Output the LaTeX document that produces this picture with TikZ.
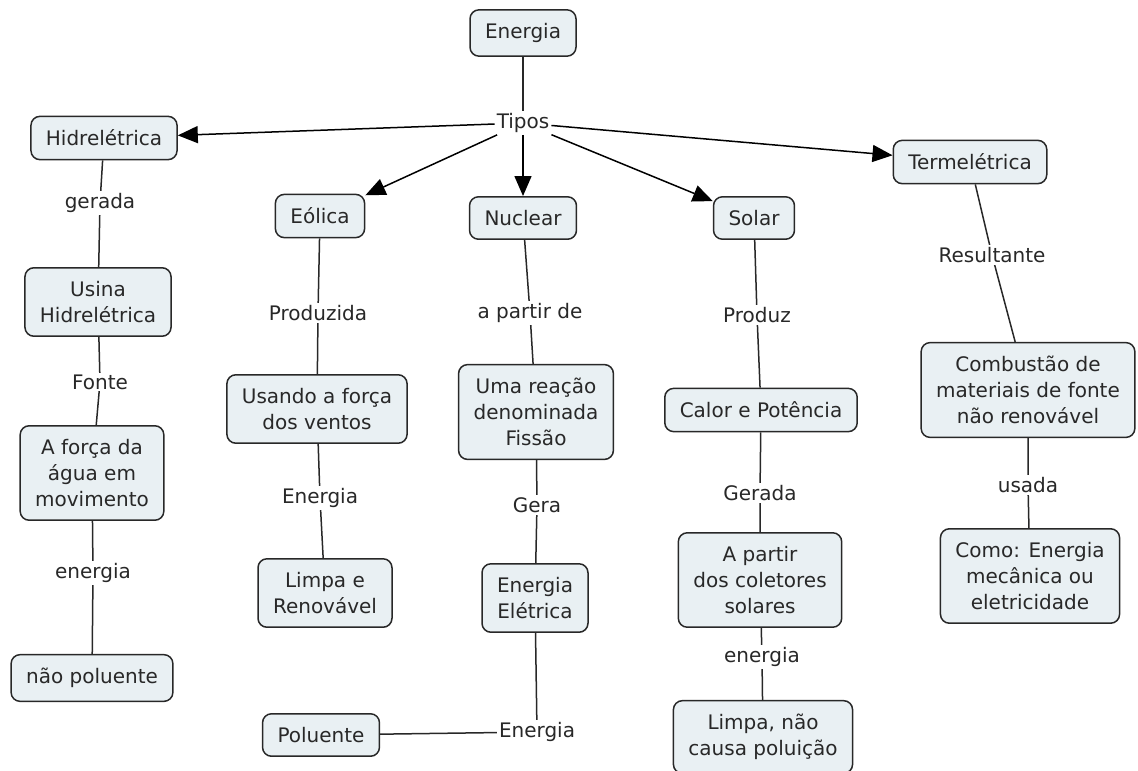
\documentclass[tikz,border=0pt]{standalone}
\usepackage{fontspec}
\setmainfont{DejaVu Sans}
\usetikzlibrary{arrows.meta,backgrounds}
\definecolor{boxfill}{RGB}{233,240,243}
\definecolor{ink}{RGB}{40,40,40}
\begin{document}
\begin{tikzpicture}[x=1pt,y=-1pt,
  concept/.style={draw=ink, line width=1.5pt, fill=boxfill, rounded corners=9pt,
    align=center, inner xsep=15pt, inner ysep=13.5pt, text=ink,
    font=\fontsize{20}{26}\selectfont},
  linkword/.style={fill=white, inner sep=2pt, text=ink,
    font=\fontsize{20}{26}\selectfont},
  link/.style={draw=ink, line width=1.5pt},
  typearrow/.style={draw=black, line width=1.5pt, -{Triangle[length=20pt,width=17pt]}}]
\useasboundingbox (0,0) rectangle (1138,771);

% root and the link word that fans out to the energy types
\node[concept] (energia) at (523,33) {Energia};
\node[linkword] (tipos) at (523,123) {Tipos};

% energy types
\node[concept] (hid) at (104,138) {Hidrelétrica};
\node[concept] (term) at (970,162) {Termelétrica};
\node[concept] (eol) at (320,216) {Eólica};
\node[concept] (nuc) at (523,218) {Nuclear};
\node[concept] (sol) at (754,218) {Solar};

% hydroelectric branch
\node[linkword] (lgerada) at (100,203) {gerada};
\node[concept] (usina) at (98,302) {Usina\\Hidrelétrica};
\node[linkword] (lfonte) at (100,382) {Fonte};
\node[concept] (forca) at (92,473) {A força da\\água em\\movimento};
\node[linkword] (lenergiaA) at (93,573) {energia};
\node[concept] (naopol) at (92,678) {não poluente};

% wind branch
\node[linkword] (lproduzida) at (318,313) {Produzida};
\node[concept] (usando) at (317,409) {Usando a força\\dos ventos};
\node[linkword] (lenergiaB) at (320,498) {Energia};
\node[concept] (limpaR) at (325,593) {Limpa e\\Renovável};

% nuclear branch
\node[linkword] (lapartir) at (530,313) {a partir de};
\node[concept] (fissao) at (536,412) {Uma reação\\denominada\\Fissão};
\node[linkword] (lgera) at (537,505) {Gera};
\node[concept] (eletrica) at (535,598) {Energia\\Elétrica};
\node[linkword] (lenergiaC) at (537,732) {Energia};
\node[concept] (poluente) at (321,735) {Poluente};

% solar branch
\node[linkword] (lproduz) at (757,315) {Produz};
\node[concept] (calor) at (761,410) {Calor e Potência};
\node[linkword] (lgeradaB) at (760,493) {Gerada};
\node[concept] (coletores) at (760,580) {A partir\\dos coletores\\solares};
\node[linkword] (lenergiaD) at (762,657) {energia};
\node[concept] (limpaN) at (763,737) {Limpa, não\\causa poluição};

% thermoelectric branch
\node[linkword] (lresult) at (992,255) {Resultante};
\node[concept] (comb) at (1028,390) {Combustão de\\materiais de fonte\\não renovável};
\node[linkword] (lusada) at (1028,485) {usada};
\node[concept] (como) at (1030,576) {Como: Energia\\mecânica ou\\eletricidade};

\begin{scope}[on background layer]
  \draw[link] (energia) -- (tipos.center);
  \draw[link] (hid) -- (lgerada.center) -- (usina);
  \draw[link] (usina) -- (lfonte.center) -- (forca);
  \draw[link] (forca) -- (lenergiaA.center) -- (naopol);
  \draw[link] (eol) -- (lproduzida.center) -- (usando);
  \draw[link] (usando) -- (lenergiaB.center) -- (limpaR);
  \draw[link] (nuc) -- (lapartir.center) -- (fissao);
  \draw[link] (fissao) -- (lgera.center) -- (eletrica);
  \draw[link] (eletrica) -- (lenergiaC.center);
  \draw[link] (lenergiaC.center) -- (poluente);
  \draw[link] (sol) -- (lproduz.center) -- (calor);
  \draw[link] (calor) -- (lgeradaB.center) -- (coletores);
  \draw[link] (coletores) -- (lenergiaD.center) -- (limpaN);
  \draw[link] (term) -- (lresult.center) -- (comb);
  \draw[link] (comb) -- (lusada.center) -- (como);
\end{scope}

% arrows from the link word to each energy type
\draw[typearrow] (tipos) -- (hid);
\draw[typearrow] (tipos) -- (eol);
\draw[typearrow] (tipos) -- (nuc);
\draw[typearrow] (tipos) -- (sol);
\draw[typearrow] (tipos) -- (term);
\end{tikzpicture}
\end{document}
